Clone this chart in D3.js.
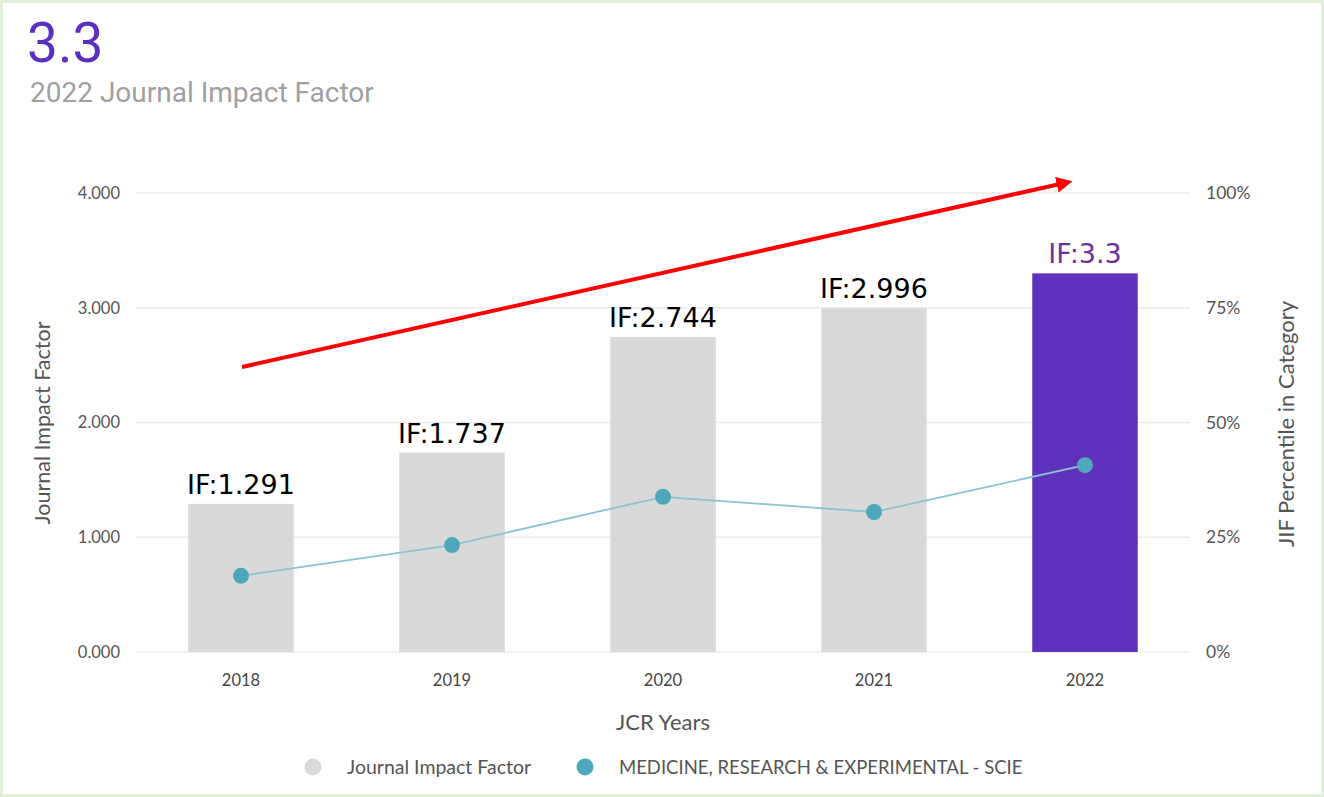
<!DOCTYPE html>
<html><head><meta charset="utf-8">
<script src="https://cdn.jsdelivr.net/npm/d3@7"></script>
<style>body{margin:0;background:#fff}svg{display:block}</style>
</head><body><svg id="c" width="1324" height="797"></svg>
<script>
const years = ["2018","2019","2020","2021","2022"];
const jif = [1.291, 1.737, 2.744, 2.996, 3.3];
const percentile = [16.6, 23.3, 33.8, 30.5, 40.7];
const jifTicks = [0, 1, 2, 3, 4];
const pctTicks = [0, 25, 50, 75, 100];
const ifLabels = ["IF:1.291","IF:1.737","IF:2.744","IF:2.996","IF:3.3"];
const legendItems = ["Journal Impact Factor","MEDICINE, RESEARCH & EXPERIMENTAL - SCIE"];

const svg = d3.select("#c");
// frame
svg.append("rect").attr("x",1.5).attr("y",1.5).attr("width",1321).attr("height",794)
  .attr("fill","#fff").attr("stroke","#e2efd9").attr("stroke-width",3);

const x = d3.scaleBand().domain(years).range([135.5,1190.5]).paddingInner(0.5).paddingOuter(0.25);
const y = d3.scaleLinear().domain([0,4]).range([652,193]);
const y2 = d3.scaleLinear().domain([0,100]).range([652,193]);

// header
svg.append("text").attr("x",27).attr("y",62).text("3.3")
  .attr("font-family","Roboto").attr("font-size",55).attr("fill","#5b30c0");
svg.append("text").attr("x",30).attr("y",102).text("2022 Journal Impact Factor")
  .attr("font-family","Roboto").attr("font-size",28).attr("fill","#a0a0a0");

// gridlines
svg.append("g").selectAll("line").data(jifTicks).join("line")
  .attr("x1",135).attr("x2",1190).attr("y1",d=>y(d)).attr("y2",d=>y(d))
  .attr("stroke","#ececec").attr("stroke-width",1.5);

// left axis
const la = svg.append("g").attr("transform","translate(120,0)")
  .call(d3.axisLeft(y).tickValues(jifTicks).tickFormat(d3.format(".3f")).tickSize(0).tickPadding(0));
la.select(".domain").remove();
la.selectAll("text").attr("font-family","Lato").attr("font-size",16.5).attr("fill","#555");

// right axis
const ra = svg.append("g").attr("transform","translate(1206,0)")
  .call(d3.axisRight(y2).tickValues(pctTicks).tickFormat(d=>d+"%").tickSize(0).tickPadding(0));
ra.select(".domain").remove();
ra.selectAll("text").attr("font-family","Lato").attr("font-size",17.5).attr("fill","#555");

// x axis
const xa = svg.append("g").attr("transform","translate(0,671)")
  .call(d3.axisBottom(x).tickSize(0).tickPadding(0));
xa.select(".domain").remove();
xa.selectAll("text").attr("font-family","Lato").attr("font-size",16.5).attr("fill","#444").attr("dy","0.9em");

// axis titles
svg.append("text").attr("transform","translate(50,423) rotate(-90)").attr("text-anchor","middle")
  .text("Journal Impact Factor").attr("font-family","Lato").attr("font-size",21.5).attr("fill","#555");
svg.append("text").attr("transform","translate(1294,424) rotate(-90)").attr("text-anchor","middle")
  .text("JIF Percentile in Category").attr("font-family","Lato").attr("font-size",22).attr("fill","#555");
svg.append("text").attr("x",663).attr("y",730).attr("text-anchor","middle")
  .text("JCR Years").attr("font-family","Lato").attr("font-size",22).attr("fill","#555");

// bars
svg.append("g").selectAll("rect").data(years).join("rect")
  .attr("x",d=>x(d)).attr("width",x.bandwidth())
  .attr("y",(d,i)=>y(jif[i])).attr("height",(d,i)=>y(0)-y(jif[i]))
  .attr("fill",(d,i)=>i===years.length-1?"#5e32bd":"#d9d9d9");

// IF labels
svg.append("g").selectAll("text").data(years).join("text")
  .attr("x",d=>x(d)+x.bandwidth()/2).attr("y",(d,i)=>y(jif[i])-10)
  .attr("text-anchor","middle").text((d,i)=>ifLabels[i])
  .attr("font-family","DejaVu Sans").attr("font-size",27)
  .attr("fill",(d,i)=>i===years.length-1?"#7030a0":"#000");

// line
const line = d3.line().x((d,i)=>x(years[i])+x.bandwidth()/2).y(d=>y2(d));
svg.append("path").datum(percentile).attr("d",line).attr("fill","none")
  .attr("stroke","#8ac4d0").attr("stroke-width",1.8);
svg.append("g").selectAll("circle").data(percentile).join("circle")
  .attr("cx",(d,i)=>x(years[i])+x.bandwidth()/2).attr("cy",d=>y2(d)).attr("r",8)
  .attr("fill","#4ea7ba");

// red arrow
const defs = svg.append("defs");
defs.append("marker").attr("id","ah").attr("viewBox","0 0 10 10").attr("refX",2).attr("refY",5)
  .attr("markerWidth",4).attr("markerHeight",4).attr("orient","auto")
  .append("path").attr("d","M0,0L10,5L0,10Z").attr("fill","#ff0000");
svg.append("line").attr("x1",242).attr("y1",367).attr("x2",1060).attr("y2",184)
  .attr("stroke","#ff0000").attr("stroke-width",4).attr("marker-end","url(#ah)");

// legend
const lg = svg.append("g");
const lx = [313, 585];
const lc = ["#d9d9d9","#4ea7ba"];
const lfs = [19.5, 18.5];
legendItems.forEach((t,i)=>{
  lg.append("circle").attr("cx",lx[i]).attr("cy",767).attr("r",8.5).attr("fill",lc[i]);
  lg.append("text").attr("x",lx[i]+34).attr("y",774).text(t)
    .attr("font-family","Lato").attr("font-size",lfs[i]).attr("fill","#555");
});
</script></body></html>
